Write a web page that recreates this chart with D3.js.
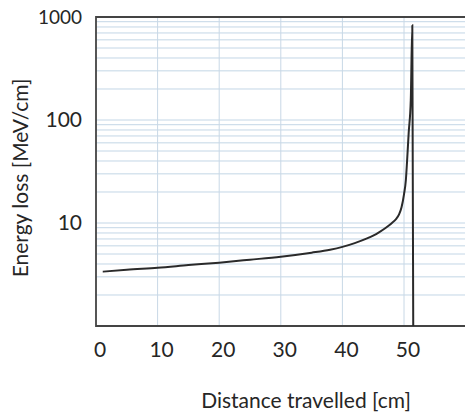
<!DOCTYPE html>
<html>
<head>
<meta charset="utf-8">
<script src="https://cdn.jsdelivr.net/npm/d3@7"></script>
<style>
  body { margin: 0; background: #fff; }
  text { font-family: Lato, "Open Sans", sans-serif; fill: #262626; }
</style>
</head>
<body>
<svg width="465" height="413"></svg>
<script>
// depth (cm) and stopping power (MeV/cm)
const distance = [1.1, 5, 10, 15, 20, 25, 30, 35, 38, 40, 42, 44, 45, 46, 47, 48, 48.7, 49.2, 49.6, 50.0, 50.3, 50.5, 50.76, 51.1, 51.35, 51.5];
const energyLoss = [3.37, 3.52, 3.68, 3.9, 4.12, 4.4, 4.71, 5.15, 5.5, 5.86, 6.38, 7.08, 7.55, 8.17, 8.95, 9.95, 10.9, 12.1, 14.2, 19.0, 26, 40, 75, 156, 830, 1];
const xTicks = [0, 10, 20, 30, 40, 50];
const yTicks = [10, 100, 1000];

const svg = d3.select('svg');
const LEFT = 96, TOP = 17, BOTTOM = 326;

const x = d3.scaleLinear().domain([0, 60]).range([LEFT, LEFT + 61.6 * 6]);
const y = d3.scaleLog().domain([1, 1000]).range([BOTTOM, TOP]);

// minor log grid: 2..9 in each decade
const yGrid = [];
[1, 10, 100].forEach(d => { for (let k = 2; k <= 9; k++) yGrid.push(d * k); });
yGrid.push(10, 100);

svg.append('g').selectAll('line')
    .data(yGrid)
    .enter().append('line')
    .attr('x1', LEFT).attr('x2', 465)
    .attr('y1', d => y(d)).attr('y2', d => y(d))
    .attr('stroke', '#c3d6e6').attr('stroke-width', 1);

svg.append('g').selectAll('line')
    .data(xTicks.filter(d => d > 0))
    .enter().append('line')
    .attr('x1', d => x(d)).attr('x2', d => x(d))
    .attr('y1', TOP).attr('y2', BOTTOM)
    .attr('stroke', '#c8d8e6').attr('stroke-width', 1);

// frame: left, bottom, top
svg.append('path')
    .attr('d', `M465,${TOP}H${LEFT}V${BOTTOM}H465`)
    .attr('fill', 'none')
    .attr('stroke', '#444')
    .attr('stroke-width', 1.8);

const line = d3.line()
    .x((d, i) => x(distance[i]))
    .y(d => y(d))
    .curve(d3.curveMonotoneX);

svg.append('path')
    .datum(energyLoss)
    .attr('d', line)
    .attr('fill', 'none')
    .attr('stroke', '#2a2a2a')
    .attr('stroke-width', 2);

// tick labels
svg.append('g').selectAll('text')
    .data(xTicks)
    .enter().append('text')
    .attr('x', d => x(d) + 4)
    .attr('y', 357)
    .attr('text-anchor', 'middle')
    .attr('font-size', 21)
    .text(d => d);

svg.append('g').selectAll('text')
    .data(yTicks)
    .enter().append('text')
    .attr('x', 82)
    .attr('y', d => y(d) + 7)
    .attr('text-anchor', 'end')
    .attr('font-size', d => d === 1000 ? 19 : 21)
    .text(d => d);

svg.append('text')
    .attr('x', 306)
    .attr('y', 408)
    .attr('text-anchor', 'middle')
    .attr('font-size', 21)
    .text('Distance travelled [cm]');

svg.append('text')
    .attr('transform', 'translate(28,178) rotate(-90)')
    .attr('text-anchor', 'middle')
    .attr('font-size', 21)
    .text('Energy loss [MeV/cm]');
</script>
</body>
</html>
